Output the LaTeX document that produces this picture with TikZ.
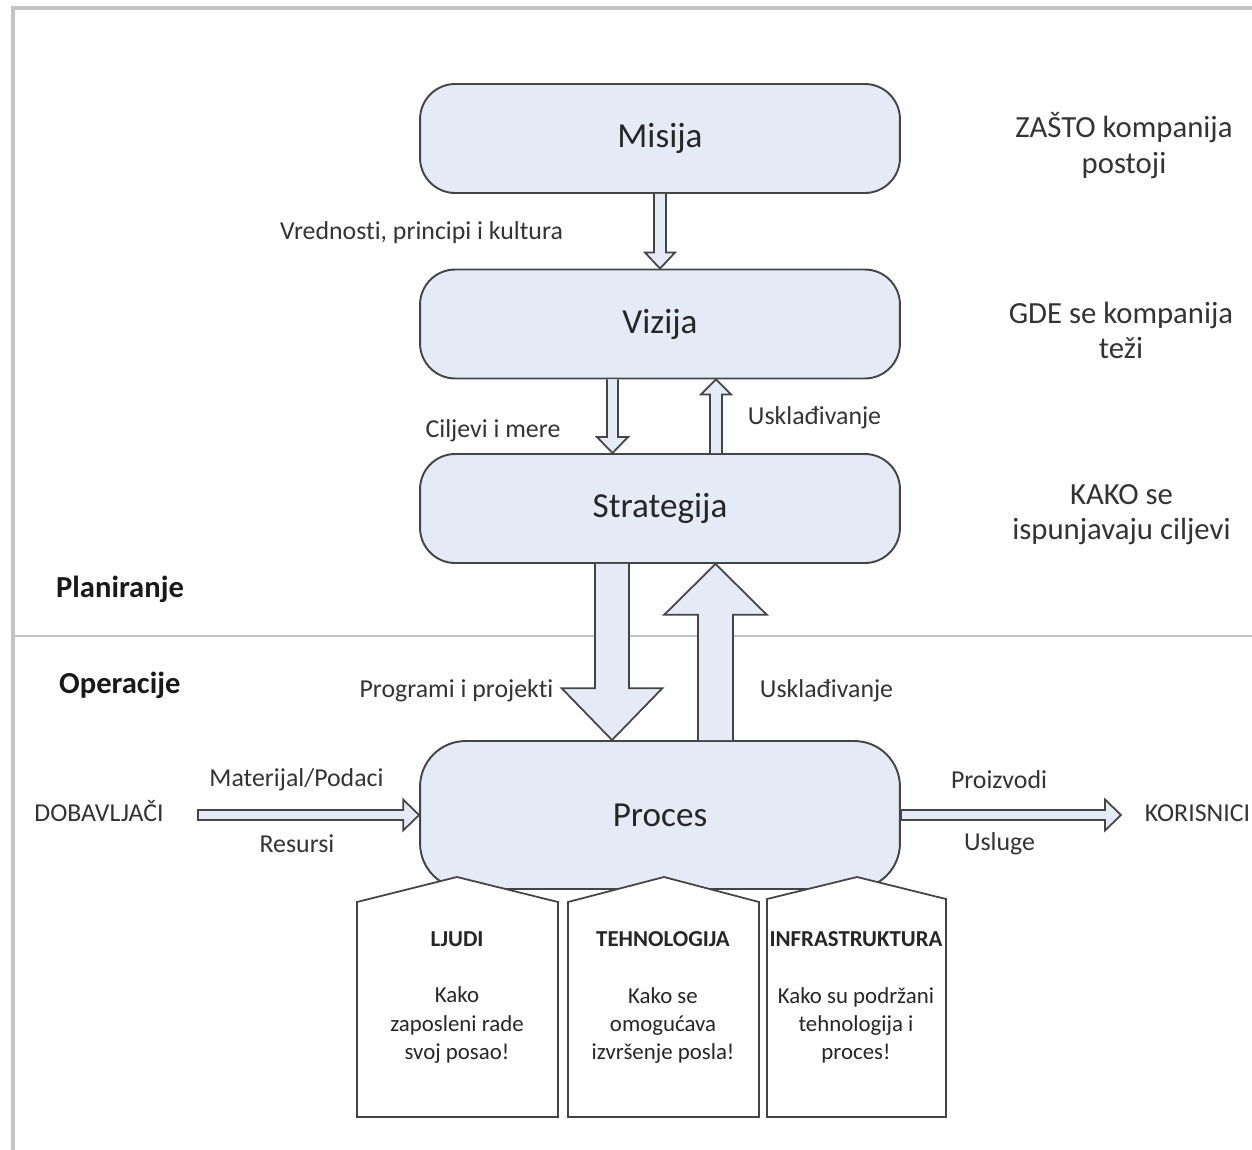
\documentclass[tikz,border=0pt]{standalone}
\usepackage{fontspec}
\setmainfont{Carlito}[Ligatures=NoCommon]
\usetikzlibrary{calc}
\definecolor{boxfill}{RGB}{229,235,246}
\definecolor{edge}{RGB}{68,68,68}
\definecolor{frame}{RGB}{196,196,196}
\def\px{0.5669pt}
\tikzset{
  level/.style={draw=edge,line width=1.1pt,fill=boxfill,rounded corners=20pt,minimum width=9.6cm,minimum height=2.18cm,font=\fontsize{20}{24}\selectfont,text=black!85},
  lbl/.style={font=\fontsize{14.7}{18}\selectfont,text=black!80},
  side/.style={font=\fontsize{17.5}{20}\selectfont,align=center,text=black!80},
  zone/.style={font=\fontsize{17.4}{20}\selectfont\bfseries,anchor=west,text=black!90},
  blk/.style={draw=edge,line width=1pt,fill=boxfill},
  house/.style={draw=edge,line width=1pt,fill=white},
  pillar/.style={font=\fontsize{13}{16}\selectfont,align=center,text=black!85}
}
% vertical block arrow: from, to, half shaft, half head, head length (neg. = up)
\newcommand{\varrow}[5]{%
  \draw[blk] let \p1=(#1),\p2=(#2) in
    ({\x1-#3*\px},\y1) -- ({\x1-#3*\px},{\y2+#5*\px}) -- ({\x1-#4*\px},{\y2+#5*\px}) -- (\x1,\y2)
    -- ({\x1+#4*\px},{\y2+#5*\px}) -- ({\x1+#3*\px},{\y2+#5*\px}) -- ({\x1+#3*\px},\y1);}
% horizontal block arrow pointing right
\newcommand{\harrow}[5]{%
  \draw[blk] let \p1=(#1),\p2=(#2) in
    (\x1,{\y1+#3*\px}) -- ({\x2-#5*\px},{\y1+#3*\px}) -- ({\x2-#5*\px},{\y1+#4*\px}) -- (\x2,\y1)
    -- ({\x2-#5*\px},{\y1-#4*\px}) -- ({\x2-#5*\px},{\y1-#3*\px}) -- (\x1,{\y1-#3*\px}) -- cycle;}

\begin{document}
\begin{tikzpicture}[x=0.02cm,y=-0.02cm]
\useasboundingbox (0,0) rectangle (1252,1150);

% frame
\draw[frame,line width=2pt] (13,1150) -- (13,8) -- (1252,8);
\draw[frame,line width=1.4pt] (13,636) -- (1252,636);

% levels
\node[level] (mis) at (660,138.5) {Misija};
\node[level] (viz) at (660,324) {Vizija};
\node[level] (str) at (660,508.5) {Strategija};
\node[level,minimum height=2.96cm,rounded corners=26pt] (proc) at (660,815) {Proces};

% arrows between levels
\varrow{mis.south}{viz.north}{6}{15}{16}
\varrow{$(viz.south)+(-47.5,0)$}{str.north}{5.5}{15.5}{16}
\varrow{$(str.north)+(56,0)$}{viz.south}{6}{15}{-15}
\varrow{$(str.south)+(-48,0)$}{proc.north}{17}{50.5}{52}
\varrow{$(proc.north)+(55.5,0)$}{str.south}{17.5}{51.5}{-51}

% inputs and outputs
\node[lbl] (dob) at (99,811) {DOBAVLJAČI};
\node[lbl] (kor) at (1197.5,813) {KORISNICI};
\coordinate (dobin) at (198,815);
\coordinate (korin) at (1121,815);
\harrow{dobin}{proc.west}{5}{15.5}{16}
\harrow{proc.east}{korin}{5}{15.5}{16}

% labels
\node[lbl] (vred) at (421.5,233) {Vrednosti, principi i kultura};
\node[lbl] (cilj) at (493,431) {Ciljevi i mere};
\node[lbl] (usk1) at (814.5,418) {Usklađivanje};
\node[lbl] (prog) at (456.5,691) {Programi i projekti};
\node[lbl] (usk2) at (826.5,691) {Usklađivanje};
\node[lbl] (mat) at (296.5,780) {Materijal/Podaci};
\node[lbl] (res) at (297,844) {Resursi};
\node[lbl] (proiz) at (999,780) {Proizvodi};
\node[lbl] (usl) at (999.5,844) {Usluge};

% right side
\node[side] (zasto) at (1124,145.5) {ZAŠTO kompanija\\postoji};
\node[side] (gde) at (1121,330.5) {GDE se kompanija\\teži};
\node[side] (kako) at (1121.5,514.5) {KAKO se\\ispunjavaju ciljevi};

\node[zone] (plan) at (50,589) {Planiranje};
\node[zone] (oper) at (53,685) {Operacije};

% pillars
\draw[house] (357,1117) -- (357,902) -- (457,877) -- (558,902) -- (558,1117) -- cycle;
\draw[house] (568,1117) -- (568,902) -- (664,877) -- (759,902) -- (759,1117) -- cycle;
\draw[house] (767,1117) -- (767,899) -- (857,877) -- (946,899) -- (946,1117) -- cycle;
\node[pillar] (ljudi) at (457,997.5) {\textbf{LJUDI}\\[16pt]Kako\\zaposleni rade\\svoj posao!};
\node[pillar] (tehn) at (663,997.5) {\textbf{TEHNOLOGIJA}\\[16pt]Kako se\\omogućava\\izvršenje posla!};
\node[pillar] (infra) at (856,997.5) {\textbf{INFRASTRUKTURA}\\[16pt]Kako su podržani\\tehnologija i\\proces!};

\end{tikzpicture}
\end{document}
